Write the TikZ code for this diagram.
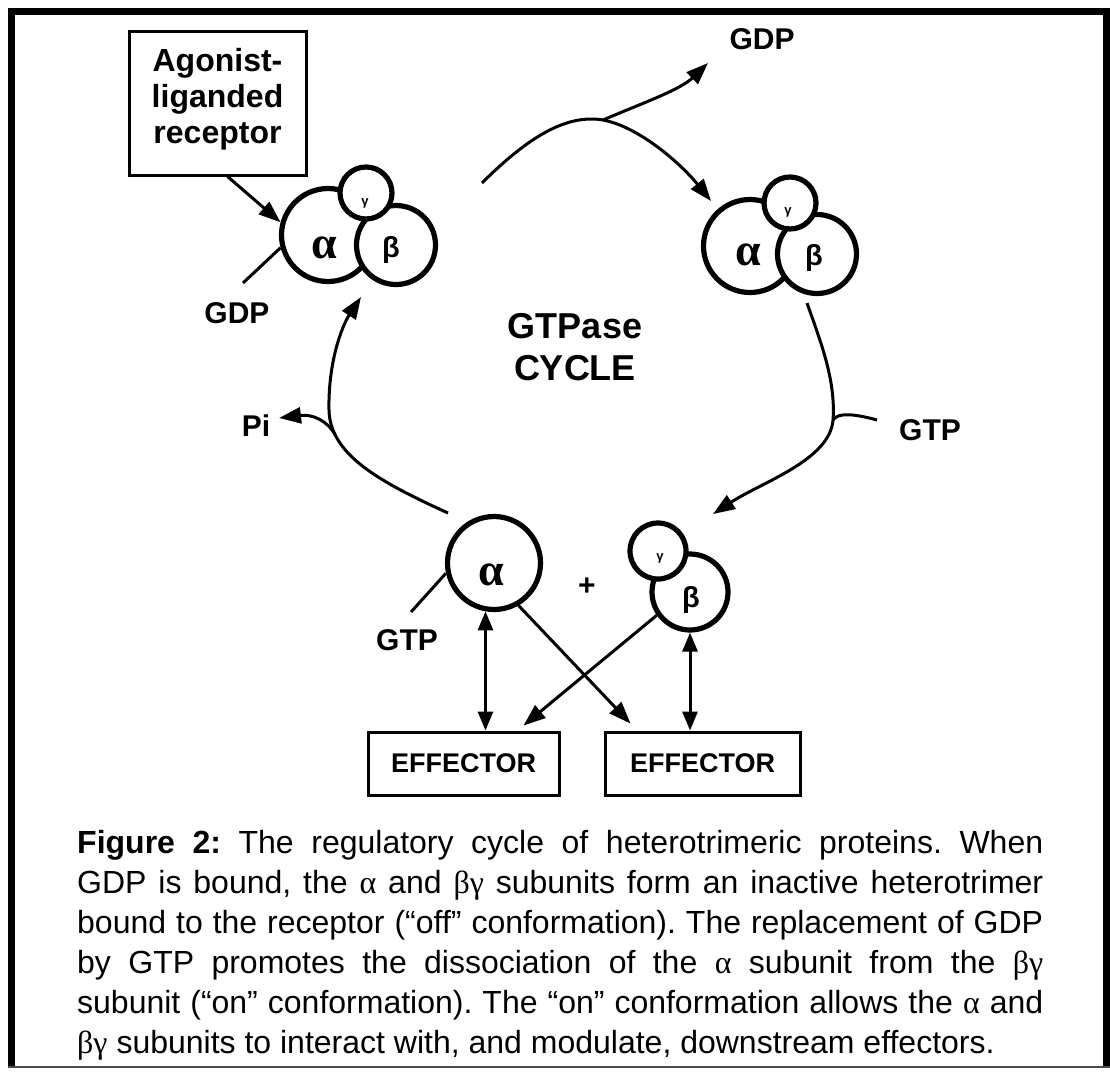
\documentclass[tikz,border=0pt]{standalone}
\usepackage{fontspec}
\setmainfont{Liberation Sans}
\newfontfamily\grk{Liberation Serif}
\usetikzlibrary{arrows.meta,calc}
\begin{document}
\begin{tikzpicture}[x=1pt,y=-1pt,
  lbl/.style={font=\bfseries\fontsize{30}{34}\selectfont, inner sep=0},
  subu/.style={circle, draw, line width=5.2, fill=white, inner sep=0},
  conn/.style={line width=3},
  arr/.style={line width=3, -{Triangle[length=22pt,width=16pt]}},
  darr/.style={line width=3, {Triangle[length=19pt,width=15pt]}-{Triangle[length=19pt,width=15pt]}},
  boxed/.style={draw, line width=3, inner sep=0},
  galpha/.style={font=\grk\bfseries\fontsize{46}{46}\selectfont, inner sep=0},
  gbeta/.style={font=\bfseries\fontsize{29}{29}\selectfont, inner sep=0},
  ggamma/.style={font=\bfseries\fontsize{13}{13}\selectfont, inner sep=0}]
\useasboundingbox (0,0) rectangle (1110,1072);
\fill[white] (0,0) rectangle (1110,1072);
% frame
\draw[line width=7] (11.5,1068) -- (11.5,11) -- (1106.5,11) -- (1106.5,1068);
\draw[line width=2,black!70] (8,1067) -- (1110,1067);

% receptor
\node[boxed, minimum width=177, minimum height=144] (rec) at (217.5,103) {};
\node[font=\bfseries\fontsize{32}{36}\selectfont, align=center, inner sep=0] (rect) at (217.5,99) {Agonist-\\liganded\\receptor};

% left trimer
\node[subu, minimum size=93] (aL) at (328,235) {};
\node[subu, minimum size=79] (bL) at (396,245) {};
\node[subu, minimum size=52] (gL) at (366,193) {};
\node[galpha] (aLt) at (324,248) {α};
\node[gbeta] (bLt) at (391,250) {β};
\node[ggamma] (gLt) at (365,203) {γ};

% right trimer
\node[subu, minimum size=93] (aR) at (750,246) {};
\node[subu, minimum size=79] (bR) at (817,254) {};
\node[subu, minimum size=52] (gR) at (790,203) {};
\node[galpha] (aRt) at (748,255) {α};
\node[gbeta] (bRt) at (814,258) {β};
\node[ggamma] (gRt) at (788,212) {γ};

% lower subunits
\node[subu, minimum size=93] (aD) at (494,563) {};
\node[subu, minimum size=76] (bD) at (690,592) {};
\node[subu, minimum size=56] (gD) at (658,551) {};
\node[galpha] (aDt) at (491,575) {α};
\node[gbeta] (bDt) at (691,600) {β};
\node[ggamma] (gDt) at (660,558) {γ};
\node[lbl] (plus) at (587,587) {+};

% labels
\node[lbl] (gdpL) at (237,313) {GDP};
\node[lbl] (gdpT) at (762,39) {GDP};
\node[lbl] (pi) at (256,426) {Pi};
\node[lbl] (gtpR) at (930,430) {GTP};
\node[lbl] (gtpD) at (407,640) {GTP};
\node[font=\bfseries\fontsize{36}{42}\selectfont, align=center, inner sep=0] (cyc) at (575,347) {GTPase\\CYCLE};

% effectors
\node[boxed, minimum width=191, minimum height=63, font=\bfseries\fontsize{27}{30}\selectfont] (effL) at (463.5,763.5) {EFFECTOR};
\node[boxed, minimum width=195, minimum height=63, font=\bfseries\fontsize{27}{30}\selectfont] (effR) at (702.5,763.5) {EFFECTOR};

% free ends
\coordinate (gdpLend) at (243,283);
\coordinate (gtpDend) at (411,612);
\coordinate (arcS) at (482,183);
\coordinate (arcP) at (603,120);
\coordinate (arcE) at (711,201);
\coordinate (gdpTtip) at (708,63);
\coordinate (cycLS) at (448,513);
\coordinate (cycLE) at (361,297);
\coordinate (piTip) at (279,418);
\coordinate (rS) at (807,303);
\coordinate (rE) at (713,514);
\coordinate (gtpRend) at (877,420);

% receptor to trimer
\draw[arr] ($(rec.south)+(10,0)$) -- (aL.165);
\draw[conn] (aL.195) -- (gdpLend);

% top arc
\draw[arr] (arcS) .. controls (530,135) and (568,114) .. (arcP) .. controls (640,127) and (682,165) .. (arcE);
\draw[arr] (arcP) .. controls (640,104) and (680,90) .. (gdpTtip);

% right side
\draw[arr] (rS) .. controls (820,340) and (836,380) .. (833,420) coordinate (rJ) .. controls (830,460) and (762,482) .. (rE);
\draw[conn] (rJ) .. controls (838,412) and (855,414) .. (gtpRend);

% left side
\draw[arr] (cycLS) .. controls (380,482) and (330,455) .. (329,410) coordinate[pos=0.8] (piS) .. controls (328,362) and (342,326) .. (cycLE);
\draw[arr] (piS) .. controls (327,420) and (312,414) .. (piTip);

% lower
\draw[conn] (aD.192) -- (gtpDend);
\draw[darr] (aD.260) -- (aD.260 |- effL.north);
\draw[darr] (bD.south) -- (bD.south |- effR.north);
\draw[arr] (aD.300) -- ($(effR.north west)+(27,-7)$);
\draw[arr] (bD.215) -- ($(effL.north east)+(-37,-5)$);

% caption
\node[anchor=north west, text width=966, align=justify, inner sep=0, font=\frenchspacing\fontsize{32}{40}\selectfont] (cap) at (77,830) {\textbf{Figure 2:} The regulatory cycle of heterotrimeric proteins. When\linebreak GDP is bound, the {\grk α} and {\grk βγ} subunits form an inactive heterotrimer\linebreak bound to the receptor (“off” conformation). The replacement of GDP\linebreak by GTP promotes the dissociation of the {\grk α} subunit from the {\grk βγ}\linebreak subunit (“on” conformation). The “on” conformation allows the {\grk α} and\linebreak {\grk βγ} subunits to interact with, and modulate, downstream effectors.};
\end{tikzpicture}
\end{document}
